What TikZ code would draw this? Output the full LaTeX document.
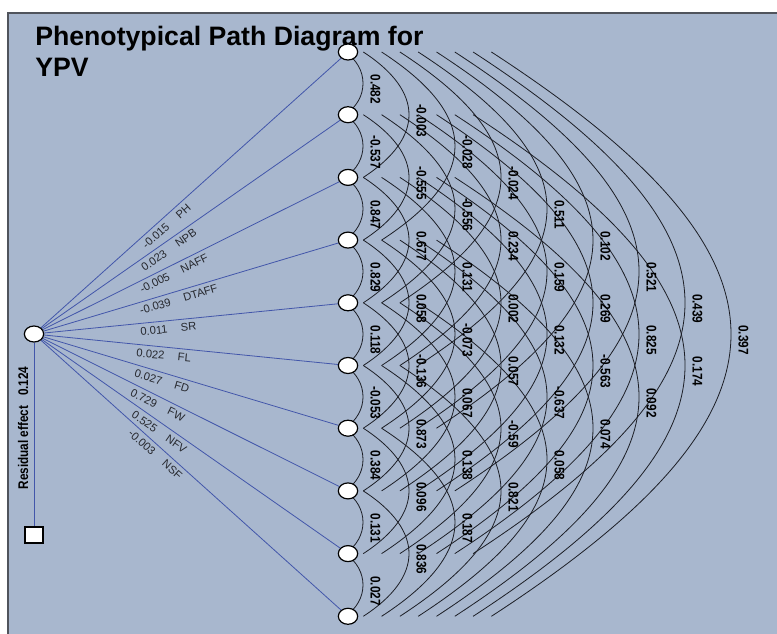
\documentclass[tikz,border=0pt]{standalone}
\usepackage{fontspec}
\setmainfont{Liberation Sans}
\newfontfamily\corrfont[FakeStretch=0.84]{Liberation Sans}
\usetikzlibrary{shapes.geometric, calc}

\definecolor{panelblue}{RGB}{168,183,206}
\definecolor{framegray}{RGB}{80,84,92}
\definecolor{pathblue}{RGB}{66,86,170}
\definecolor{arcblack}{RGB}{28,30,38}
\definecolor{labelgray}{RGB}{38,40,46}

\pgfdeclarelayer{panel}
\pgfdeclarelayer{links}
\pgfsetlayers{panel,links,main}

\tikzset{
  var/.style={ellipse, draw=black, fill=white, line width=0.9pt,
    minimum width=14.5pt, minimum height=12pt, inner sep=0pt},
  resbox/.style={rectangle, draw=black, fill=white, line width=0.9pt,
    minimum width=13.5pt, minimum height=12pt, inner sep=0pt},
  pathline/.style={draw=pathblue, line width=0.6pt},
  pathlabel/.style={sloped, below=2.2pt, inner sep=0.8pt,
    font=\fontsize{8.4}{9}\selectfont, text=labelgray},
  corrarc/.style={draw=arcblack, line width=0.6pt},
  corrlabel/.style={rotate=-90, inner sep=0pt,
    font=\corrfont\bfseries\fontsize{10.5}{12}\selectfont},
  reslabel/.style={rotate=90, inner sep=0pt,
    font=\corrfont\bfseries\fontsize{10.5}{12}\selectfont},
  titletext/.style={anchor=base west, inner sep=0pt,
    font=\bfseries\fontsize{20}{24}\selectfont},
}

\begin{document}
\begin{tikzpicture}[x=0.75pt, y=0.75pt]
    \useasboundingbox (0,0) rectangle (777,-634);
    \clip (0,0) rectangle (777,-634);

    % Panel
    \begin{pgfonlayer}{panel}
        \fill[panelblue] (8,-13) rectangle (790,-650);
        \draw[framegray, line width=1.5pt] (8,-650) -- (8,-13) -- (790,-13);
    \end{pgfonlayer}

    % Title
    \node[titletext] (title) at (35,-46) {Phenotypical Path Diagram for};
    \node[titletext] (titleb) at (35,-77) {YPV};

    % Variables
    \node[var] (ypv) at (34,-334) {};
    \foreach \k in {0,...,9}
        \node[var] (n\k) at (348,{-52-62.7*\k}) {};
    \node[resbox] (res) at (34,-535) {};

    % Direct effects
    \begin{pgfonlayer}{links}
        \foreach \k/\v/\t/\p in {0/-0.015/PH/0.40, 1/0.023/NPB/0.41,
                2/-0.005/NAFF/0.43, 3/-0.039/DTAFF/0.45, 4/0.011/SR/0.42,
                5/0.022/FL/0.41, 6/0.027/FD/0.41, 7/0.729/FW/0.40,
                8/0.525/NFV/0.41, 9/-0.003/NSF/0.40}
            \draw[pathline] (ypv) -- (n\k)
                node[pathlabel, pos=\p] {\v\hspace{1.2em}\t};
        \draw[pathline] (ypv) -- (res);
    \end{pgfonlayer}
    \node[reslabel] (reslab) at (23,-428) {Residual effect\hspace{0.7em}0.124};

    % Correlations
    \foreach \i/\j/\r in {0/1/0.482, 1/2/-0.537, 2/3/0.847, 3/4/0.829,
            4/5/0.118, 5/6/-0.053, 6/7/0.384, 7/8/0.131, 8/9/0.027,
            0/2/-0.003, 1/3/-0.555, 2/4/0.677, 3/5/0.058, 4/6/-0.136,
            5/7/0.873, 6/8/0.096, 7/9/0.836,
            0/3/-0.028, 1/4/-0.556, 2/5/0.131, 3/6/-0.073, 4/7/0.067,
            5/8/0.138, 6/9/0.187,
            0/4/-0.024, 1/5/0.234, 2/6/0.002, 3/7/0.057, 4/8/-0.59, 5/9/0.821,
            0/5/0.511, 1/6/0.159, 2/7/0.132, 3/8/-0.637, 4/9/0.058,
            0/6/0.102, 1/7/0.269, 2/8/-0.563, 3/9/0.074,
            0/7/0.521, 1/8/0.825, 2/9/0.092,
            0/8/0.439, 1/9/0.174,
            0/9/0.397} {
        \pgfmathsetmacro\dist{\j-\i}
        \pgfmathsetmacro\sx{-3+18.3*(\dist-1)}
        \pgfmathsetmacro\ax{15+46*(\dist-1)}
        \pgfmathsetmacro\ca{(\ax-\sx)/0.75}
        \pgfmathsetmacro\cb{0.65*\ca}
        \begin{pgfonlayer}{links}
            \draw[corrarc] ($(n\i)+(\sx,0)$) .. controls +(\ca,-\cb) and +(\ca,\cb) .. ($(n\j)+(\sx,0)$);
        \end{pgfonlayer}
        \node[corrlabel] (r\i\j) at ($(n\i)!0.5!(n\j)+(\ax+12.5,-6)$) {\r};
    }
\end{tikzpicture}
\end{document}
